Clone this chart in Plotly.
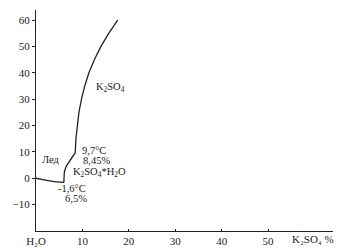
import plotly.graph_objects as go

# Ice liquidus: H2O -> eutectic
ice_x = [0, 1.5, 3.0, 4.5, 6.0]
ice_y = [0, -0.5, -1.0, -1.4, -1.6]
# K2SO4*H2O branch and K2SO4 branch
salt_x = [6.0, 6.0, 6.1, 6.5, 7.2, 7.9, 8.45, 8.6, 8.85, 9.25, 9.8, 10.5, 11.4, 12.6, 14.0, 15.7, 17.6]
salt_y = [-1.6, 0.5, 2.3, 4.5, 6.5, 8.3, 9.7, 15.0, 20.0, 25.0, 30.0, 35.0, 40.0, 45.0, 50.0, 55.0, 60.0]

x_ticks = [0, 10, 20, 30, 40, 50]
x_ticktext = ["H₂O", "10", "20", "30", "40", "50"]
y_ticks = [-10, 0, 10, 20, 30, 40, 50, 60]

labels = [
    ("K<sub>2</sub>SO<sub>4</sub>", 12.4, 34.6),
    ("Лед", 0.9, 7.2),
    ("9,7°C", 9.4, 10.6),
    ("8,45%", 9.6, 6.6),
    ("K<sub>2</sub>SO<sub>4</sub>*H<sub>2</sub>O", 7.5, 2.0),
    ("-1,6°C", 4.4, -3.7),
    ("6,5%", 5.8, -7.6),
]

font = dict(family="Liberation Serif", size=10.5, color="#222")
tfont = dict(family="Liberation Serif", size=11, color="#222")

fig = go.Figure()
fig.add_trace(go.Scatter(x=ice_x, y=ice_y, mode="lines", line=dict(color="#222", width=1.3, shape="spline")))
fig.add_trace(go.Scatter(x=salt_x, y=salt_y, mode="lines", line=dict(color="#222", width=1.3, shape="linear")))

for t, x, y in labels:
    fig.add_annotation(x=x, y=y, text=t, showarrow=False, xanchor="left", yanchor="middle", font=font)

fig.add_annotation(x=54.8, xref="x", y=0, yref="paper", yanchor="top", xanchor="left", yshift=0,
                   text="K₂SO₄ %", showarrow=False, font=tfont)

fig.update_layout(
    width=350, height=248,
    margin=dict(l=36, r=17, t=10, b=17),
    paper_bgcolor="white", plot_bgcolor="white",
    showlegend=False,
    font=font,
)
fig.update_xaxes(range=[0, 64], tickvals=x_ticks, ticktext=x_ticktext, showgrid=False, zeroline=False,
                 showline=True, linecolor="#222", linewidth=1, ticks="inside", ticklen=2, tickcolor="#222",
                 tickfont=tfont, automargin=False)
fig.update_yaxes(range=[-20, 63.8], tickvals=y_ticks, showgrid=False, zeroline=False,
                 showline=True, linecolor="#222", linewidth=1, ticks="outside", ticklen=3, tickcolor="#222",
                 tickfont=tfont, automargin=False)
fig.write_html("out.html")
